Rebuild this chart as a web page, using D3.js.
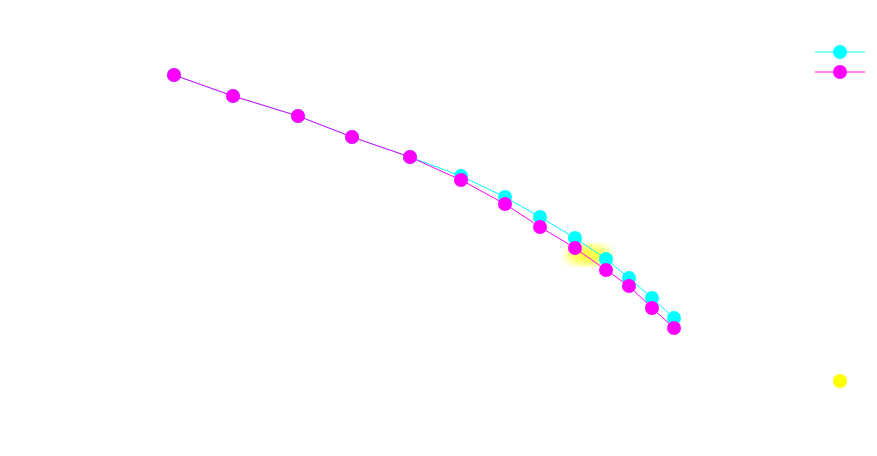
<!DOCTYPE html>
<html><head><meta charset="utf-8">
<script src="https://cdn.jsdelivr.net/npm/d3@7"></script>
<style>body{margin:0;background:#fff}</style>
</head><body><div id="chart"></div>
<script>
const xs = [174, 233, 298, 352, 410, 461, 505, 540, 575, 606, 629, 652, 674];
const cyanY = [75, 96, 116, 137, 157, 176, 197, 217, 238, 259, 278, 298, 318];
const magentaY = [75, 96, 116, 137, 157, 180, 204, 227, 248, 270, 286, 308, 328];
const series = [
  { name: "a", color: "#00ffff", values: cyanY },
  { name: "b", color: "#ff00ff", values: magentaY }
];

const width = 877, height = 456;
const x = d3.scaleLinear().domain([0, 877]).range([0, width]);
const y = d3.scaleLinear().domain([0, 456]).range([0, height]);

const svg = d3.select("#chart").append("svg")
  .attr("width", width).attr("height", height);

svg.append("defs").append("filter").attr("id", "blur")
  .append("feGaussianBlur").attr("stdDeviation", 5);

// yellow highlight
svg.append("ellipse")
  .attr("cx", x(588)).attr("cy", y(255)).attr("rx", 22).attr("ry", 10)
  .attr("fill", "#ffff00").attr("opacity", 0.75).attr("filter", "url(#blur)");

const line = d3.line().x((d, i) => x(xs[i])).y(d => y(d));

for (const s of series) {
  svg.append("path").datum(s.values)
    .attr("d", line).attr("fill", "none")
    .attr("stroke", s.color).attr("stroke-width", 1);
  svg.append("g").selectAll("circle").data(s.values).join("circle")
    .attr("cx", (d, i) => x(xs[i])).attr("cy", d => y(d))
    .attr("r", 7).attr("fill", s.color);
}

// legend
const legend = svg.append("g");
series.forEach((s, i) => {
  const ly = 52 + i * 20;
  legend.append("line").attr("x1", 815).attr("x2", 865)
    .attr("y1", ly).attr("y2", ly).attr("stroke", s.color);
  legend.append("circle").attr("cx", 840).attr("cy", ly).attr("r", 7).attr("fill", s.color);
});
legend.append("circle").attr("cx", 840).attr("cy", 381).attr("r", 7).attr("fill", "#ffff00");
</script>
</body></html>
